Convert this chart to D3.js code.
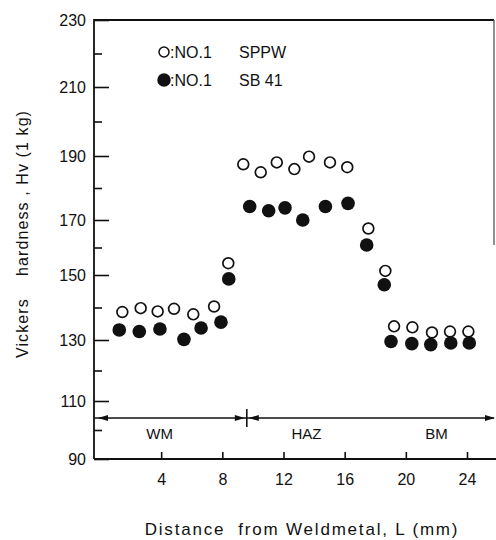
<!DOCTYPE html>
<html>
<head>
<meta charset="utf-8">
<script src="https://cdn.jsdelivr.net/npm/d3@7"></script>
<style>
  body { margin: 0; background: #fff; }
  svg { display: block; font-family: "Liberation Sans", Arial, sans-serif; }
  text { white-space: pre; }
</style>
</head>
<body>
<svg width="496" height="540"></svg>
<script>
// distance from weld metal (mm) and Vickers hardness Hv(1kg)
const sppwDist = [1.46, 2.66, 3.77, 4.84, 6.10, 7.46, 8.39, 9.37, 10.51, 11.56, 12.71,
  13.67, 15.04, 16.17, 17.55, 18.66, 19.23, 20.43, 21.71, 22.89, 24.09];
const sppwHv = [138.6, 139.8, 138.8, 139.6, 137.9, 140.3, 154.3, 187.4, 184.9, 188.0, 185.9,
  189.8, 188.0, 186.5, 166.9, 151.5, 134.2, 133.9, 132.3, 132.6, 132.6];

const sb41Dist = [1.26, 2.57, 3.92, 5.49, 6.61, 7.91, 8.42, 9.79, 11.03, 12.10,
  13.26, 14.74, 16.22, 17.44, 18.59, 19.03, 20.39, 21.63, 22.94, 24.15];
const sb41Hv = [133.1, 132.6, 133.4, 130.2, 133.7, 135.5, 148.8, 174.2, 172.9, 173.8,
  170.0, 174.2, 175.2, 160.9, 147.0, 129.5, 128.8, 128.5, 129.0, 129.0];

const xTicks = [4, 8, 12, 16, 20, 24];
const yMajor = [90, 110, 130, 150, 170, 190, 210, 230];
const yMinor = [100, 120, 140, 160, 180, 200, 220];

const zoneNames = ["WM", "HAZ", "BM"];
const zoneCenters = [3.9, 13.5, 22.0];
const zoneBreak = 9.6;

const legendNames = ["NO.1", "NO.1"];
const legendSteels = ["SPPW", "SB 41"];

const svg = d3.select("svg");

const plotL = 94, plotR = 494, plotT = 20, plotB = 459;

const x = d3.scaleLinear().domain([0, 24]).range([100, 467]);
// the scanned axis is not quite even, so follow the printed tick marks
const y = d3.scaleLinear()
  .domain(yMajor)
  .range([459, 401, 340, 275, 220, 156, 87, 20]);

// frame
const frame = svg.append("g").attr("stroke", "#111").attr("fill", "none");
frame.append("path")
  .attr("d", `M${plotL},${plotB}V${plotT}H${plotR}`)
  .attr("stroke-width", 1.8);
frame.append("line")
  .attr("x1", plotR).attr("x2", plotR).attr("y1", plotT).attr("y2", 245)
  .attr("stroke", "#555").attr("stroke-width", 1.3);
frame.append("line")
  .attr("x1", plotL).attr("x2", 496).attr("y1", plotB).attr("y2", plotB)
  .attr("stroke-width", 1.8);

// y axis
const yAxis = svg.append("g")
  .attr("transform", `translate(${plotL},0)`)
  .call(d3.axisLeft(y).tickValues(yMajor).tickSize(-15).tickPadding(8));
const yMinorAxis = svg.append("g")
  .attr("transform", `translate(${plotL},0)`)
  .call(d3.axisLeft(y).tickValues(yMinor).tickSize(-8).tickFormat(""));

// x axis
const xAxis = svg.append("g")
  .attr("transform", `translate(0,${plotB})`)
  .call(d3.axisBottom(x).tickValues(xTicks).tickSize(-7).tickPadding(15));

[yAxis, yMinorAxis, xAxis].forEach(g => {
  g.select(".domain").remove();
  g.selectAll("line").attr("stroke", "#111").attr("stroke-width", 1.6);
  g.selectAll("text")
    .attr("font-family", "Liberation Sans, Arial, sans-serif")
    .attr("font-size", 16)
    .attr("fill", "#111");
});

// zone line with arrows
const zoneY = 418;
svg.append("line")
  .attr("x1", plotL).attr("x2", 494).attr("y1", zoneY).attr("y2", zoneY)
  .attr("stroke", "#111").attr("stroke-width", 1.6);
svg.append("line")
  .attr("x1", x(zoneBreak)).attr("x2", x(zoneBreak))
  .attr("y1", zoneY - 9).attr("y2", zoneY + 9)
  .attr("stroke", "#111").attr("stroke-width", 1.6);

const arrow = (tip, dir) =>
  `M${tip},${zoneY}L${tip - dir * 10},${zoneY - 3}L${tip - dir * 10},${zoneY + 3}Z`;
svg.append("g").attr("fill", "#111")
  .selectAll("path")
  .data([[98, -1], [x(zoneBreak) - 2, 1], [x(zoneBreak) + 2, -1], [495, 1]])
  .join("path")
  .attr("d", d => arrow(d[0], d[1]));

svg.append("g")
  .selectAll("text")
  .data(zoneNames)
  .join("text")
  .attr("x", (d, i) => x(zoneCenters[i]))
  .attr("y", 439)
  .attr("text-anchor", "middle")
  .attr("font-size", 15)
  .attr("fill", "#111")
  .text(d => d);

// data
svg.append("g")
  .selectAll("circle")
  .data(sppwDist)
  .join("circle")
  .attr("cx", d => x(d))
  .attr("cy", (d, i) => y(sppwHv[i]))
  .attr("r", 5.4)
  .attr("fill", "none")
  .attr("stroke", "#111")
  .attr("stroke-width", 1.7);

svg.append("g")
  .selectAll("circle")
  .data(sb41Dist)
  .join("circle")
  .attr("cx", d => x(d))
  .attr("cy", (d, i) => y(sb41Hv[i]))
  .attr("r", 6.8)
  .attr("fill", "#111");

// legend
const legend = svg.append("g");
legendNames.forEach((name, i) => {
  const ly = 52 + i * 28;
  legend.append("circle")
    .attr("cx", 164).attr("cy", ly)
    .attr("r", i === 0 ? 5 : 6)
    .attr("fill", i === 0 ? "#fff" : "#111")
    .attr("stroke", "#111").attr("stroke-width", 1.5);
  legend.append("text")
    .attr("x", 170).attr("y", ly + 5.5)
    .attr("font-size", 16).attr("fill", "#111")
    .text(":" + name);
  legend.append("text")
    .attr("x", 239).attr("y", ly + 5.5)
    .attr("font-size", 16).attr("fill", "#111")
    .text(legendSteels[i]);
});

// axis titles
svg.append("text")
  .attr("x", 302).attr("y", 535)
  .attr("text-anchor", "middle")
  .attr("font-size", 17)
  .attr("letter-spacing", 1.8)
  .attr("fill", "#111")
  .text("Distance  from Weldmetal, L (mm)");

svg.append("text")
  .attr("transform", "translate(28,234) rotate(-90)")
  .attr("text-anchor", "middle")
  .attr("font-size", 16)
  .attr("letter-spacing", 1.1)
  .attr("fill", "#111")
  .text("Vickers    hardness , Hv (1 kg)");
</script>
</body>
</html>
